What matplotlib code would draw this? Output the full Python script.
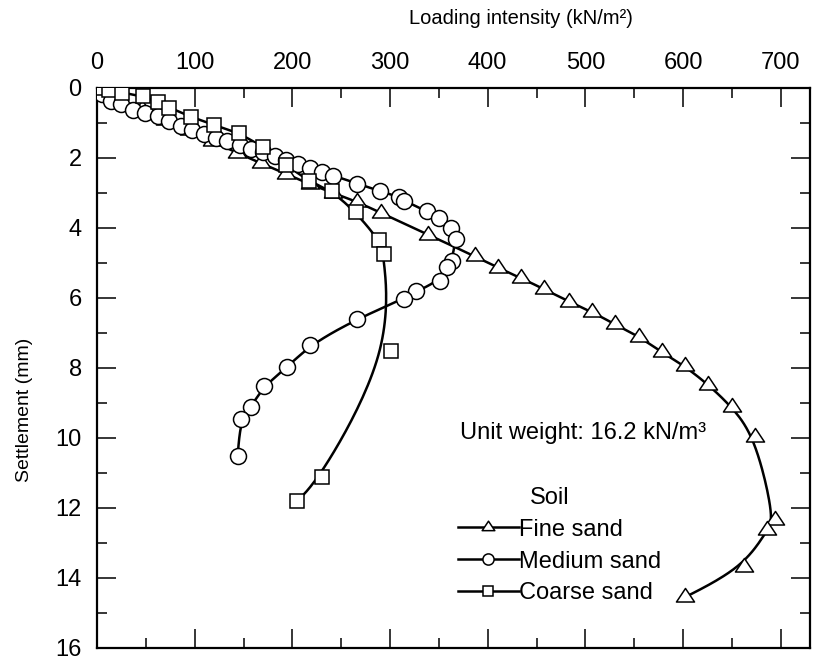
import matplotlib
matplotlib.use("Agg")
import matplotlib.pyplot as plt
from matplotlib.path import Path
import numpy as np

plt.rcParams['font.family'] = ['Liberation Sans', 'DejaVu Sans']

# loading intensity (kN/m2) and settlement (mm)
fine_x = [0, 22, 46, 70, 94, 118, 143, 168, 193, 218, 242, 266, 291, 339, 387,
          411, 434, 458, 483, 507, 530, 555, 578, 602, 626, 650, 674, 694, 686,
          662, 602]
fine_y = [0, 0.30, 0.60, 0.90, 1.20, 1.52, 1.85, 2.15, 2.45, 2.75, 3.00, 3.25,
          3.57, 4.19, 4.81, 5.14, 5.43, 5.75, 6.10, 6.40, 6.75, 7.10, 7.55,
          7.95, 8.48, 9.11, 9.97, 12.35, 12.63, 13.69, 14.55]

medium_x = [5, 14, 25, 37, 49, 62, 74, 86, 97, 110, 122, 133, 146, 158, 170,
            182, 194, 206, 218, 230, 242, 266, 290, 309, 314, 338, 350, 362,
            368, 363, 358, 351, 327, 314, 266, 218, 195, 171, 158, 147, 144]
medium_y = [0.17, 0.38, 0.47, 0.62, 0.71, 0.81, 0.95, 1.09, 1.19, 1.30, 1.43,
            1.52, 1.63, 1.74, 1.84, 1.94, 2.05, 2.17, 2.28, 2.40, 2.50, 2.73,
            2.95, 3.10, 3.22, 3.52, 3.71, 4.00, 4.31, 4.93, 5.10, 5.50, 5.81,
            6.02, 6.60, 7.34, 7.98, 8.51, 9.10, 9.46, 10.52]

coarse_x = [0, 12, 26, 47, 62, 74, 96, 120, 145, 170, 194, 217, 241, 265, 289,
            294, 301, 230, 205]
coarse_y = [0, 0.05, 0.13, 0.24, 0.39, 0.56, 0.82, 1.06, 1.28, 1.68, 2.20,
            2.67, 2.95, 3.55, 4.35, 4.74, 7.50, 11.10, 11.80]

labels = ['Fine sand', 'Medium sand', 'Coarse sand']


def bspline(xs, ys, n=20):
    """clamped uniform cubic B-spline on the measured points"""
    p = np.column_stack([xs, ys]).astype(float)
    p = np.vstack([p[:1], p[:1], p, p[-1:], p[-1:]])
    t = np.linspace(0, 1, n)[:, None]
    b0 = (1 - t) ** 3 / 6
    b1 = (3 * t ** 3 - 6 * t ** 2 + 4) / 6
    b2 = (-3 * t ** 3 + 3 * t ** 2 + 3 * t + 1) / 6
    b3 = t ** 3 / 6
    segs = [b0 * p[i] + b1 * p[i + 1] + b2 * p[i + 2] + b3 * p[i + 3]
            for i in range(len(p) - 3)]
    c = np.vstack(segs)
    return c[:, 0], c[:, 1]


# flatter triangle than matplotlib's '^'
tri = Path([(-1, -0.5), (1, -0.5), (0, 1.0), (-1, -0.5)], closed=True)
markers = [tri, 'o', 's']
sizes = [13, 11.5, 10.5]

fig = plt.figure(figsize=(8.23, 6.58), dpi=100)
ax = fig.add_axes([97 / 823, 10 / 658, 713 / 823, 560 / 658])

handles = []
for xs, ys, m, ms, lab in zip([fine_x, medium_x, coarse_x],
                              [fine_y, medium_y, coarse_y],
                              markers, sizes, labels):
    cx, cy = bspline(xs, ys)
    ax.plot(cx, cy, color='black', lw=1.8, zorder=2)
    ax.plot(xs, ys, ls='none', marker=m, ms=ms, mfc='white', mec='black',
            mew=1.1, zorder=3)
    h, = ax.plot([], [], color='black', lw=1.8, marker=m, ms=ms, mfc='white',
                 mec='black', mew=1.1, label=lab)
    handles.append(h)

ax.set_xlim(0, 730)
ax.set_ylim(16, 0)
ax.set_xticks(np.arange(0, 701, 100))
ax.set_xticks(np.arange(0, 730, 50), minor=True)
ax.set_yticks(np.arange(0, 17, 2))
ax.set_yticks(np.arange(0, 17, 1), minor=True)

ax.tick_params(which='both', direction='in', top=True, bottom=True, left=True,
               right=True, labeltop=True, labelbottom=False, width=1.1,
               labelsize=17)
ax.tick_params(which='major', length=13.7)
ax.tick_params(which='minor', length=7.2)
ax.tick_params(axis='x', pad=10)
ax.tick_params(axis='y', pad=11)
for s in ax.spines.values():
    s.set_linewidth(1.6)

ax.xaxis.set_label_position('top')
ax.set_xlabel('Loading intensity (kN/m²)', fontsize=14.5)
ax.xaxis.set_label_coords(0.595, 1.125)
ax.xaxis.label.set_va('center')
ax.set_ylabel('Settlement (mm)', fontsize=14)
ax.yaxis.set_label_coords(-0.101, 0.425)
ax.yaxis.label.set_va('center')

ax.text(372, 9.86, 'Unit weight: 16.2 kN/m³', fontsize=17, ha='left',
        va='center')
ax.text(463, 11.72, 'Soil', fontsize=17, ha='center', va='center')
ax.legend(handles=handles, loc='upper left', bbox_to_anchor=(0.506, 0.231),
          frameon=False, fontsize=17, handlelength=2.6, handletextpad=0,
          labelspacing=0.42, borderpad=0, borderaxespad=0, markerscale=0.7)

fig.savefig('out.png', dpi=100)
